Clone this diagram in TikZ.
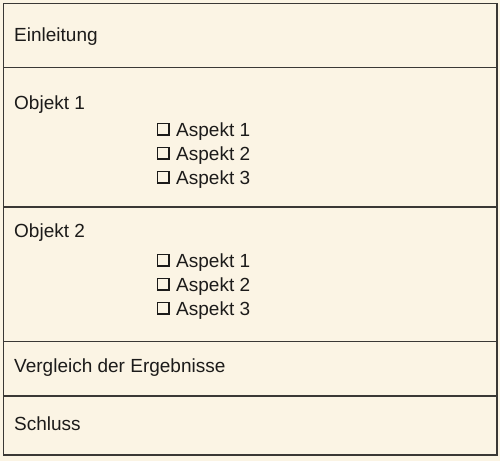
\documentclass[tikz,border=0pt]{standalone}
\usepackage{fontspec}
\setmainfont{Liberation Sans}
\definecolor{paper}{HTML}{FBF4E4}
\definecolor{rule}{HTML}{3A3835}
\definecolor{ink}{HTML}{1C1B1A}
\begin{document}
\begin{tikzpicture}[x=1pt,y=-1pt,
  label/.style={anchor=base west,inner sep=0pt,text=ink,font=\fontsize{19}{22}\selectfont},
  tick/.style={draw=ink,line width=1.6pt,inner sep=0pt,minimum size=11.4pt},
  frame/.style={draw=rule,line width=1.1pt}]

\fill [paper] (0,0) rectangle (500,461);
\useasboundingbox (0,0) rectangle (500,461);

\draw [frame] (3.5,3.5) rectangle (497,455);
\draw [frame] (3.5,67.5) -- (497,67.5);
\draw [frame] (3.5,207) -- (497,207);
\draw [frame] (3.5,341.5) -- (497,341.5);
\draw [frame] (3.5,396) -- (497,396);

\node [label] (einl) at (14,41.5) {Einleitung};

\node [label] (obj1) at (14,109) {Objekt 1};
\node [tick] (box11) at (163,129.2) {};
\node [tick] (box12) at (163,153.2) {};
\node [tick] (box13) at (163,177.2) {};
\node [label] (asp11) at (176,136) {Aspekt 1};
\node [label] (asp12) at (176,160) {Aspekt 2};
\node [label] (asp13) at (176,184) {Aspekt 3};

\node [label] (obj2) at (14,237.7) {Objekt 2};
\node [tick] (box21) at (163,260.3) {};
\node [tick] (box22) at (163,284.3) {};
\node [tick] (box23) at (163,308.3) {};
\node [label] (asp21) at (176,267.2) {Aspekt 1};
\node [label] (asp22) at (176,291.2) {Aspekt 2};
\node [label] (asp23) at (176,315.2) {Aspekt 3};

\node [label] (vergl) at (14,372.7) {Vergleich der Ergebnisse};
\node [label] (schl) at (14,430) {Schluss};

\end{tikzpicture}
\end{document}
